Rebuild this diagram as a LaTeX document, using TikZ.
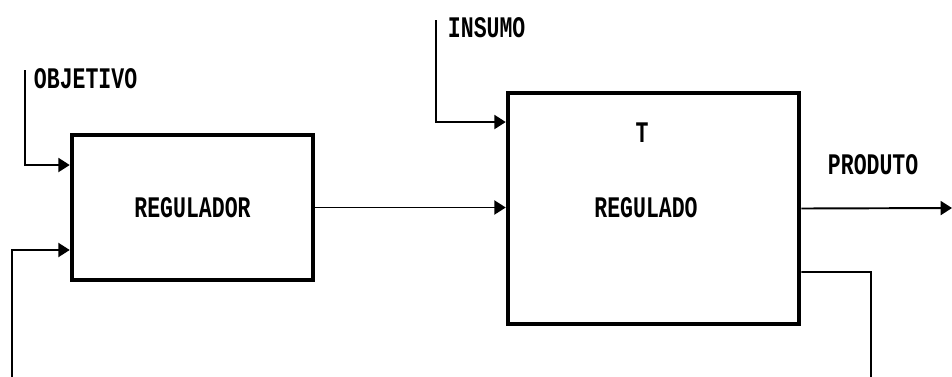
\documentclass[tikz,border=0pt]{standalone}
\usepackage{fontspec}
\newfontfamily\pixfont{Liberation Mono}[FakeStretch=0.72]
\usetikzlibrary{arrows.meta}

\begin{document}
\begin{tikzpicture}[
    x=0.02cm, y=-0.02cm,
    font=\pixfont\bfseries\fontsize{17}{19}\selectfont,
    line width=1.1pt,
    block/.style={draw, line width=2.6pt, inner sep=0pt},
    label text/.style={anchor=west, inner sep=0pt},
    % Style for the signal lines with a solid head
    flow/.style={-{Triangle[length=6.5pt, width=8pt]}}
]

    % Frame of the picture
    \clip (0,0) rectangle (952,376);

    % Blocks
    \node[block, minimum width=4.82cm, minimum height=2.9cm] (regulador) at (192.5, 207.5) {REGULADOR};
    \node[block, minimum width=5.82cm, minimum height=4.62cm] (regulado) at (653.5, 208.5) {};
    \node (t) at (642, 133) {T};
    \node (regulado_txt) at (646, 208) {REGULADO};

    % Free ends of the lines
    \coordinate (obj_top)  at (25, 70);
    \coordinate (ins_top)  at (436, 20);
    \coordinate (prod_end) at (952, 208);
    \coordinate (fb_low)   at (871, 420);
    \coordinate (fb_left)  at (12, 250);

    % Inputs of the regulator
    \draw[flow] (obj_top) |- ([yshift=0.85cm]regulador.west);
    \node[label text] (objetivo) at (33, 79) {OBJETIVO};

    % Inputs of the regulated block
    \draw[flow] (ins_top) |- ([yshift=1.73cm]regulado.west);
    \node[label text] (insumo) at (447, 28) {INSUMO};
    \draw[flow] (regulador.east) -- (regulado.west |- regulador.east);

    % Output
    \draw[flow] (regulado.east) -- (prod_end);
    \node[label text] (produto) at (827, 165) {PRODUTO};

    % Feedback (runs below the frame)
    \draw[flow] ([yshift=-1.27cm]regulado.east) -| (fb_low) -| (fb_left)
        -- ([yshift=-0.85cm]regulador.west);

\end{tikzpicture}
\end{document}
